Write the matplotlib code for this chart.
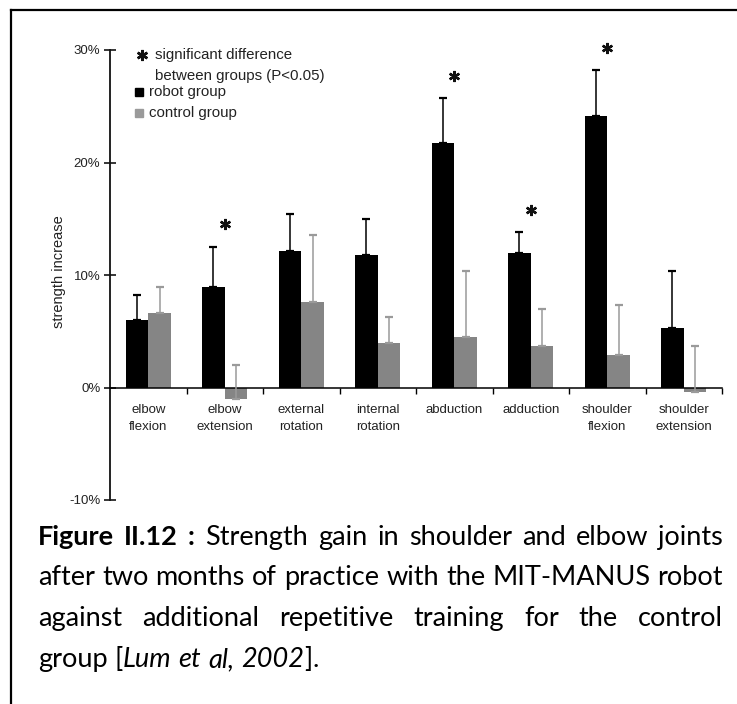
import numpy as np
import matplotlib
matplotlib.use('Agg')
import matplotlib.pyplot as plt
from matplotlib.lines import Line2D

# values (percent strength increase)
categories = ['elbow\nflexion', 'elbow\nextension', 'external\nrotation', 'internal\nrotation',
              'abduction', 'adduction', 'shoulder\nflexion', 'shoulder\nextension']
robot = [6.0, 8.9, 12.1, 11.8, 21.7, 12.0, 24.1, 5.3]
robot_err = [2.2, 3.6, 3.3, 3.2, 4.0, 1.8, 4.1, 5.1]
control = [6.6, -1.0, 7.6, 4.0, 4.5, 3.7, 2.9, -0.4]
control_err = [2.3, 3.0, 6.0, 2.3, 5.9, 3.3, 4.4, 4.1]
significant = [False, True, False, False, True, True, True, False]
yticks = [-10, 0, 10, 20, 30]

W, H = 737, 704
CHART_FONT = ['Liberation Sans', 'DejaVu Sans']
CAP_FONT = ['Lato', 'DejaVu Sans']
ROBOT_C = '#000000'
CONTROL_C = '#858585'
TEXT_C = '#222222'

fig = plt.figure(figsize=(W / 100, H / 100), dpi=100)
fig.patch.set_facecolor('white')

# frame around the figure (left and top edges visible)
fig.add_artist(Line2D([11 / W, 11 / W], [0, 1 - 10 / H], color='black', lw=1.6,
                      transform=fig.transFigure))
fig.add_artist(Line2D([11 / W, 1], [1 - 10 / H, 1 - 10 / H], color='black', lw=1.6,
                      transform=fig.transFigure))

ax = fig.add_axes([110 / W, 1 - 500 / H, 612 / W, 450 / H])
x = np.arange(len(categories))
bw = 0.295

ax.bar(x - bw / 2, robot, bw, color=ROBOT_C, zorder=2)
ax.bar(x + bw / 2, control, bw, color=CONTROL_C, zorder=2)
ax.errorbar(x - bw / 2, robot, yerr=[np.zeros(len(robot)), robot_err], fmt='none',
            ecolor=ROBOT_C, elinewidth=1.1, capsize=3, capthick=1.6, zorder=3)
ax.errorbar(x + bw / 2, control, yerr=[np.zeros(len(control)), control_err], fmt='none',
            ecolor='#9a9a9a', elinewidth=1.1, capsize=3, capthick=1.6, zorder=3)

for i, sig in enumerate(significant):
    if sig:
        ax.plot(i, robot[i] + robot_err[i] + 2.0, marker=(6, 2, 0), ms=8, mew=1.7,
                color='#111111', clip_on=False, zorder=4)

ax.set_xlim(-0.5, len(categories) - 0.5)
ax.set_ylim(-10, 30)
ax.spines['top'].set_visible(False)
ax.spines['right'].set_visible(False)
ax.spines['bottom'].set_position(('data', 0))
ax.spines['left'].set_linewidth(1.3)
ax.spines['bottom'].set_linewidth(1.1)
ax.spines['left'].set_color('#111111')

ax.set_yticks(yticks)
ax.set_yticklabels([f'{v}%' for v in yticks], family=CHART_FONT, fontsize=9.5, color=TEXT_C)
ax.tick_params(axis='y', direction='inout', length=8, width=1.1, pad=3)

ax.set_xticks(x)
ax.set_xticklabels(categories, family=CHART_FONT, fontsize=9.5, color=TEXT_C, linespacing=1.55)
ax.set_xticks(np.arange(0.5, len(categories)), minor=True)
ax.tick_params(axis='x', which='major', length=0, pad=12)
ax.tick_params(axis='x', which='minor', direction='out', length=4, width=1)

ax.set_ylabel('strength increase', family=CHART_FONT, fontsize=10.5, color=TEXT_C)
ax.yaxis.set_label_coords(-0.072, 0.507)

# legend box in the upper left
ax.plot(0.052, 0.989, transform=ax.transAxes, marker=(6, 2, 0), ms=8, mew=1.8,
        color='#111111', clip_on=False)
ax.text(0.0735, 0.989, 'significant difference', transform=ax.transAxes, va='center',
        family=CHART_FONT, fontsize=10.8, color=TEXT_C)
ax.text(0.0735, 0.942, 'between groups (P<0.05)', transform=ax.transAxes, va='center',
        family=CHART_FONT, fontsize=10.8, color=TEXT_C)
ax.plot(0.0475, 0.907, transform=ax.transAxes, marker='s', ms=6, color=ROBOT_C, lw=0)
ax.text(0.0635, 0.907, 'robot group', transform=ax.transAxes, va='center',
        family=CHART_FONT, fontsize=10.8, color=TEXT_C)
ax.plot(0.0475, 0.860, transform=ax.transAxes, marker='s', ms=6, color='#9a9a9a', lw=0)
ax.text(0.0635, 0.860, 'control group', transform=ax.transAxes, va='center',
        family=CHART_FONT, fontsize=10.8, color=TEXT_C)

# caption, justified like the document text
B, N, I = ('bold', 'normal'), ('normal', 'normal'), ('normal', 'italic')


def words(s, st=N):
    return [[(w, st)] for w in s.split()]


caption = [
    (words('Figure II.12 :', B) + words('Strength gain in shoulder and elbow joints'), True),
    (words('after two months of practice with the MIT-MANUS robot'), True),
    (words('against additional repetitive training for the control'), True),
    (words('group') + [[('[', N), ('Lum', I)]] + words('et al,', I)
     + [[('2002', I), (']', N), ('.', N)]], False),
]
baselines = [545, 585, 626, 667]
left, right = 38, 723

renderer = fig.canvas.get_renderer()


def width_of(t):
    return t.get_window_extent(renderer).width


# size the caption font so the second line fills the column with plain spaces
probe = fig.text(0, 0, 'after two months of practice with the MIT-MANUS robot',
                 fontsize=10, family=CAP_FONT)
cap_size = 10 * (right - left) / width_of(probe)
probe.remove()

probe = [fig.text(0, 0, s, fontsize=cap_size, family=CAP_FONT) for s in ('n n', 'nn')]
space = width_of(probe[0]) - width_of(probe[1])
for t in probe:
    t.remove()

for line, justify in caption:
    texts = []
    for word in line:
        runs = []
        for s, (weight, style) in word:
            t = fig.text(0, 0, s, fontsize=cap_size, family=CAP_FONT, weight=weight,
                         style=style, va='baseline', color='black')
            runs.append((t, width_of(t)))
        texts.append(runs)
    total = sum(w for runs in texts for _, w in runs)
    gap = (right - left - total) / (len(texts) - 1) if justify else space
    yb = baselines.pop(0)
    xp = left
    for runs in texts:
        for t, w in runs:
            t.set_position((xp / W, 1 - yb / H))
            xp += w
        xp += gap

fig.savefig('out.png', dpi=100)
